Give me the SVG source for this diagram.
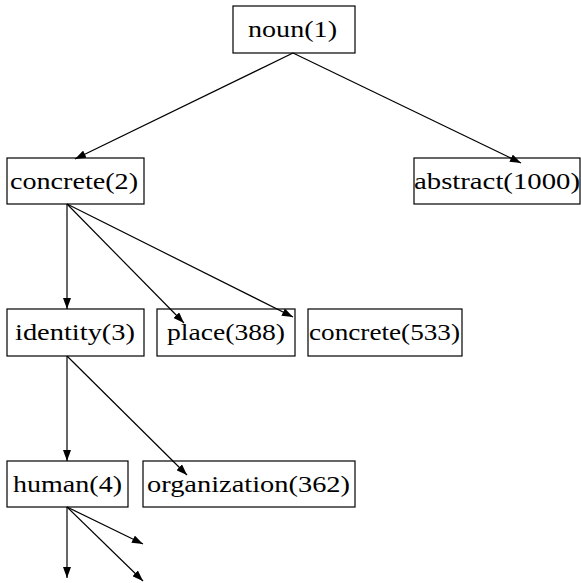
<svg xmlns="http://www.w3.org/2000/svg" width="581" height="583" viewBox="0 0 581 583">
<defs>
<marker id="ah" markerUnits="userSpaceOnUse" markerWidth="11" markerHeight="8" refX="11" refY="4" orient="auto">
<path d="M0,0 L11,4 L0,8 z" fill="#000"/>
</marker>
<style>
.box{fill:none;stroke:#000;stroke-width:1.2}
.lbl{font-family:"Liberation Serif","DejaVu Serif",serif;font-size:23px;fill:#000}
.edge{stroke:#000;stroke-width:1.2;fill:none;marker-end:url(#ah)}
</style>
</defs>
<rect width="581" height="583" fill="#fff"/>
<g id="noun1">
<rect class="box" x="233" y="6" width="122" height="47"/>
<text class="lbl" x="248" y="37" textLength="89" lengthAdjust="spacingAndGlyphs">noun(1)</text>
</g>
<g id="concrete2">
<rect class="box" x="7" y="158" width="137" height="46"/>
<text class="lbl" x="10" y="189" textLength="128" lengthAdjust="spacingAndGlyphs">concrete(2)</text>
</g>
<g id="abstract1000">
<rect class="box" x="414" y="158" width="166" height="46"/>
<text class="lbl" x="414" y="189" textLength="166" lengthAdjust="spacingAndGlyphs">abstract(1000)</text>
</g>
<g id="identity3">
<rect class="box" x="7" y="309" width="137" height="47"/>
<text class="lbl" x="15" y="340" textLength="120" lengthAdjust="spacingAndGlyphs">identity(3)</text>
</g>
<g id="place388">
<rect class="box" x="157" y="309" width="138" height="47"/>
<text class="lbl" x="167" y="340" textLength="118" lengthAdjust="spacingAndGlyphs">place(388)</text>
</g>
<g id="concrete533">
<rect class="box" x="308" y="309" width="154" height="47"/>
<text class="lbl" x="309" y="340" textLength="151" lengthAdjust="spacingAndGlyphs">concrete(533)</text>
</g>
<g id="human4">
<rect class="box" x="7" y="461" width="121" height="46"/>
<text class="lbl" x="13" y="492" textLength="109" lengthAdjust="spacingAndGlyphs">human(4)</text>
</g>
<g id="organization362">
<rect class="box" x="143" y="461" width="212" height="46"/>
<text class="lbl" x="147" y="492" textLength="203" lengthAdjust="spacingAndGlyphs">organization(362)</text>
</g>
<g id="connectors">
<line class="edge" x1="293" y1="53" x2="75" y2="159"/>
<line class="edge" x1="293" y1="53" x2="521" y2="163"/>
<line class="edge" x1="67" y1="204" x2="67" y2="309"/>
<line class="edge" x1="67" y1="204" x2="184" y2="323"/>
<line class="edge" x1="67" y1="204" x2="293" y2="317"/>
<line class="edge" x1="67" y1="356" x2="67" y2="461"/>
<line class="edge" x1="67" y1="356" x2="187" y2="475"/>
<line class="edge" x1="67" y1="507" x2="67" y2="578"/>
<line class="edge" x1="67" y1="507" x2="143" y2="544"/>
<line class="edge" x1="67" y1="507" x2="143" y2="581"/>
</g>
</svg>
